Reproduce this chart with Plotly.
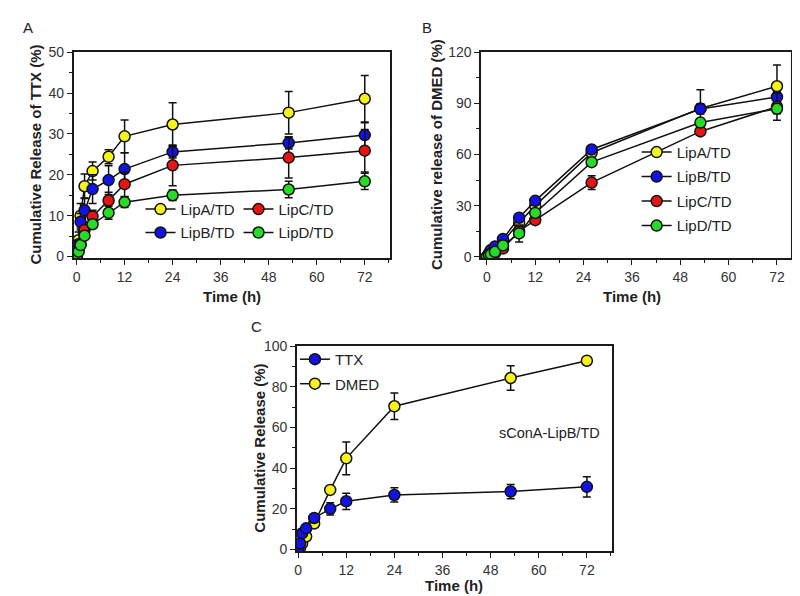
import plotly.graph_objects as go

# ---------------- data ----------------
names_A = ["LipA/TD", "LipB/TD", "LipC/TD", "LipD/TD"]
colors = {"LipA/TD": "#f4f41c", "LipB/TD": "#1212e6", "LipC/TD": "#e81414", "LipD/TD": "#26dc26"}

time_A = [0, 0.5, 1, 2, 4, 8, 12, 24, 53, 72]
ttx_lipA = [0, 4, 10, 17.2, 20.9, 24.4, 29.4, 32.3, 35.2, 38.6]
ttx_lipA_err = [0, 2, 3, 3, 2.2, 1.7, 4, 5.3, 5.2, 5.7]
ttx_lipB = [0, 3, 8.5, 11.3, 16.5, 18.7, 21.4, 25.6, 27.8, 29.7]
ttx_lipB_err = [0, 1, 2, 3, 3.5, 3.5, 4, 1.5, 1.5, 3]
ttx_lipC = [0, 1.5, 3, 6.5, 9.8, 13.7, 17.7, 22.3, 24.2, 25.9]
ttx_lipC_err = [0, 1, 1, 1, 1.5, 2, 3, 5, 5, 5.2]
ttx_lipD = [0, 1.2, 2.8, 5.1, 7.9, 10.7, 13.3, 15.0, 16.4, 18.4]
ttx_lipD_err = [0, 0.5, 0.5, 0.8, 1, 1.6, 1.3, 1.3, 2, 2]

time_B = [0, 0.5, 1, 2, 4, 8, 12, 26, 53, 72]
dmed_lipA = [0, 1.5, 3, 5, 9, 20, 30, 61, 87, 100]
dmed_lipA_err = [0, 0.5, 0.5, 1, 1, 2, 3, 3, 11, 12.5]
dmed_lipB = [0, 2, 4, 6, 10.5, 22.9, 32.8, 62.9, 86.7, 93.7]
dmed_lipB_err = [0, 0.5, 0.5, 1, 1, 2, 2, 2, 3, 3]
dmed_lipC = [0, 0.8, 1.5, 2, 4.8, 15, 21.5, 43.5, 73.5, 88]
dmed_lipC_err = [0, 0.3, 0.5, 0.5, 1, 3, 2, 4, 2, 8]
dmed_lipD = [0, 1, 1.5, 2.9, 6.7, 13.7, 25.7, 55.5, 78.7, 86.8]
dmed_lipD_err = [0, 0.3, 0.5, 0.5, 1, 5, 2, 2, 2, 3]

time_C = [0, 0.5, 1, 2, 4, 8, 12, 24, 53, 72]
sconA_ttx = [0, 3, 8, 10.4, 15.5, 20, 23.7, 26.8, 28.5, 30.8]
sconA_ttx_err = [0, 1, 1, 1, 1, 3, 4, 3.5, 3.5, 5]
sconA_dmed = [0, 1, 3, 6.4, 12.8, 29.3, 44.8, 70.4, 84.3, 92.8]
sconA_dmed_err = [0, 0.5, 0.5, 1, 1, 1.5, 8, 6.5, 6, 1.5]

x_ticks = [0, 12, 24, 36, 48, 60, 72]

FONT = "Liberation Sans, Arial, sans-serif"
fig = go.Figure()


def add(x, y, err, name, color, xa, ya, legend, rank, show=True):
    fig.add_trace(go.Scatter(
        x=x, y=y, name=name, mode="lines+markers",
        xaxis=xa, yaxis=ya, legend=legend, legendrank=rank, legendgroup=legend + name,
        showlegend=show,
        line=dict(color="#111", width=1.5),
        marker=dict(size=11, color=color, line=dict(color="#111", width=1.5)),
        error_y=dict(type="data", array=err, visible=True, color="#111", thickness=1.5, width=4),
    ))


# Panel A
panelA = {"LipA/TD": (ttx_lipA, ttx_lipA_err), "LipB/TD": (ttx_lipB, ttx_lipB_err),
          "LipC/TD": (ttx_lipC, ttx_lipC_err), "LipD/TD": (ttx_lipD, ttx_lipD_err)}
legA = {"LipA/TD": ("legend", 1), "LipC/TD": ("legend", 2), "LipB/TD": ("legend2", 1), "LipD/TD": ("legend2", 2)}
for n in names_A:
    y, e = panelA[n]
    add(time_A, y, e, n, colors[n], "x", "y", legA[n][0], legA[n][1])

# Panel B
panelB = {"LipA/TD": (dmed_lipA, dmed_lipA_err), "LipB/TD": (dmed_lipB, dmed_lipB_err),
          "LipC/TD": (dmed_lipC, dmed_lipC_err), "LipD/TD": (dmed_lipD, dmed_lipD_err)}
for i, n in enumerate(names_A):
    y, e = panelB[n]
    add(time_B, y, e, n, colors[n], "x2", "y2", "legend3", i + 1)

# Panel C
add(time_C, sconA_dmed, sconA_dmed_err, "DMED", colors["LipA/TD"], "x3", "y3", "legend4", 2)
add(time_C, sconA_ttx, sconA_ttx_err, "TTX", colors["LipB/TD"], "x3", "y3", "legend4", 1)


def xax(domain, rng, anchor):
    return dict(domain=domain, range=rng, anchor=anchor, tickvals=x_ticks,
                showline=True, mirror=True, linecolor="#1a1a1a", linewidth=1.6,
                ticks="outside", ticklen=5, tickwidth=1.3, tickcolor="#1a1a1a",
                minor=dict(ticks="outside", dtick=6, tick0=0, ticklen=3, tickcolor="#1a1a1a", tickwidth=1.1),
                showgrid=False, zeroline=False,
                tickfont=dict(family=FONT, size=14, color="#333"))


def yax(domain, rng, anchor, dtick, mdtick):
    return dict(domain=domain, range=rng, anchor=anchor, dtick=dtick, tick0=0,
                showline=True, mirror=True, linecolor="#1a1a1a", linewidth=1.6,
                ticks="outside", ticklen=5, tickwidth=1.3, tickcolor="#1a1a1a",
                minor=dict(ticks="outside", dtick=mdtick, tick0=0, ticklen=3, tickcolor="#1a1a1a", tickwidth=1.1),
                showgrid=False, zeroline=False,
                tickfont=dict(family=FONT, size=14, color="#333"))


W, H = 800, 596
def px(x): return x / W
def py(y): return 1 - y / H

LEGFONT = dict(family=FONT, size=15, color="#222")
fig.update_layout(
    width=W, height=H, margin=dict(l=0, r=0, t=0, b=0),
    paper_bgcolor="white", plot_bgcolor="white",
    font=dict(family=FONT, size=14, color="#222"),
    xaxis=xax([px(63), px(380)], [-0.7, 78.2], "y"),
    yaxis=yax([py(248), py(37)], [-0.4, 50], "x", 10, 5),
    xaxis2=xax([px(472), px(783)], [-1.4, 75.5], "y2"),
    yaxis2=yax([py(248), py(37)], [-0.8, 120], "x2", 30, 15),
    xaxis3=xax([px(287), px(603)], [-0.3, 78.2], "y3"),
    yaxis3=yax([py(548), py(338)], [-0.8, 100], "x3", 20, 10),
    legend=dict(x=px(130), y=py(198), xanchor="left", yanchor="middle", orientation="h",
                entrywidth=53, entrywidthmode="pixels", bgcolor="rgba(0,0,0,0)", font=LEGFONT),
    legend2=dict(x=px(130), y=py(222), xanchor="left", yanchor="middle", orientation="h",
                 entrywidth=53, entrywidthmode="pixels", bgcolor="rgba(0,0,0,0)", font=LEGFONT),
    legend3=dict(x=px(628), y=py(177), xanchor="left", yanchor="middle", orientation="v",
                 traceorder="grouped", tracegroupgap=2, bgcolor="rgba(0,0,0,0)", font=LEGFONT),
    legend4=dict(x=px(285), y=py(364), xanchor="left", yanchor="middle", orientation="v",
                 traceorder="grouped", tracegroupgap=2, bgcolor="rgba(0,0,0,0)", font=LEGFONT),
)

ann = []
def label(x, y, text, size=13, bold=False, angle=0):
    ann.append(dict(x=px(x), y=py(y), xref="paper", yref="paper", text=f"<b>{text}</b>" if bold else text,
                    showarrow=False, textangle=angle, xanchor="center", yanchor="middle",
                    font=dict(family=FONT, size=size, color="#222")))

label(17, 12, "A", 15)
label(418, 12, "B", 15)
label(246, 318, "C", 15)
label(25, 142, "Cumulative Release of TTX (%)", 15, True, -90)
label(427, 142, "Cumulative release of DMED (%)", 15, True, -90)
label(250, 443, "Cumulative Release (%)", 15, True, -90)
label(222, 287, "Time (h)", 15, True)
label(623, 287, "Time (h)", 15, True)
label(445, 583, "Time (h)", 15, True)
label(541, 427, "sConA-LipB/TD", 14.5)
fig.update_layout(annotations=ann)

fig.write_html("out.html")
